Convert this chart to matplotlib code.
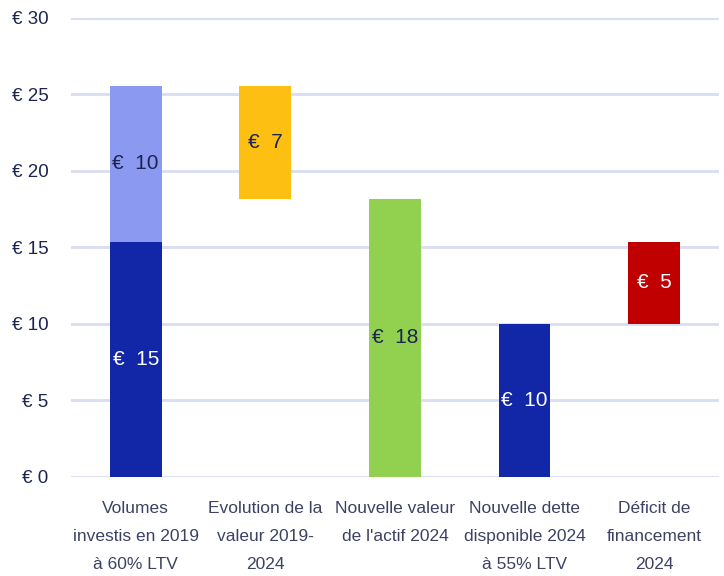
import matplotlib.pyplot as plt

plt.rcParams['font.family'] = ['Liberation Sans', 'DejaVu Sans']

categories = ["Volumes\ninvestis en 2019\nà 60% LTV",
              "Evolution de la\nvaleur 2019-\n2024",
              "Nouvelle valeur\nde l'actif 2024",
              "Nouvelle dette\ndisponible 2024\nà 55% LTV",
              "Déficit de\nfinancement\n2024"]

# segments: (category index, bottom, height)
seg_pos = [0, 0, 1, 2, 3, 4]
seg_bottom = [0, 15.36, 18.17, 0, 0, 10.0]
seg_height = [15.36, 10.2, 7.4, 18.17, 10.0, 5.36]
seg_color = ['#1226A8', '#8C99F0', '#FDBF11', '#92D050', '#1226A8', '#C00000']
seg_text = ['white', '#1c2550', '#1c2550', '#1c2550', 'white', 'white']

yticks = [0, 5, 10, 15, 20, 25, 30]

fig = plt.figure(figsize=(7.24, 5.76), dpi=100)
ax = fig.add_axes([0.098, 0.172, 0.895, 0.797])

for y in yticks:
    ax.axhline(y, color='#d9ddf2', lw=2, zorder=0)

bars = ax.bar(seg_pos, seg_height, bottom=seg_bottom, width=0.4,
              color=seg_color, zorder=2)
for b, h, tc in zip(bars, seg_height, seg_text):
    ax.text(b.get_x() + b.get_width() / 2, b.get_y() + h / 2,
            f"€  {round(h):d}", ha='center', va='center',
            fontsize=15, color=tc, zorder=3)

ax.set_xlim(-0.5, 4.5)
ax.set_ylim(0, 30)
ax.set_yticks(yticks)
ax.set_yticklabels([f"€ {v}" for v in yticks], fontsize=13.5, color='#1c2550')
ax.set_xticks(range(len(categories)))
ax.set_xticklabels(categories, fontsize=12.5, color='#3d4263', linespacing=2.1)
ax.tick_params(length=0)
ax.tick_params(axis='y', pad=16)
ax.tick_params(axis='x', pad=17)
for s in ax.spines.values():
    s.set_visible(False)

fig.savefig('out.png', dpi=100)
